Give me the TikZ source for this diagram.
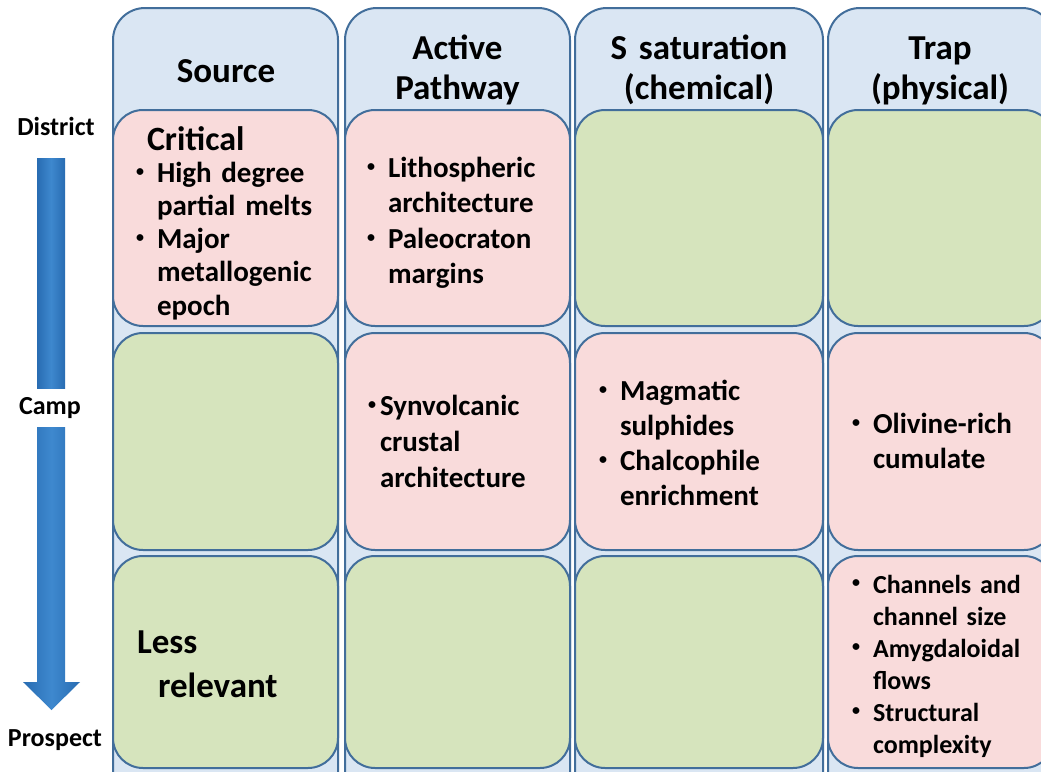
\documentclass[tikz,border=0pt]{standalone}
\usepackage{fontspec}
\setmainfont{Carlito}[WordSpace=0.8]
\definecolor{lineblue}{RGB}{66,110,155}
\definecolor{headblue}{RGB}{218,230,243}
\definecolor{cellpink}{RGB}{249,219,219}
\definecolor{cellgreen}{RGB}{214,228,189}
\definecolor{arrowdark}{RGB}{40,108,178}
\definecolor{arrowlight}{RGB}{62,136,206}
% small bullet hung to the left of the item text
\newcommand{\bu}{\leavevmode\llap{\raisebox{6pt}{\fontsize{16}{16}\selectfont •}\hspace{13pt}}}
\newcommand{\bt}{\leavevmode\llap{\raisebox{6pt}{\fontsize{16}{16}\selectfont •}\hspace{4pt}}}
\begin{document}
\begin{tikzpicture}[x=1pt,y=-1pt,
  every node/.style={inner sep=0pt, outer sep=0pt},
  colbox/.style={draw=lineblue, line width=2pt, fill=headblue, rounded corners=32pt,
    anchor=north west, minimum width=#1, minimum height=800pt},
  cell/.style={draw=lineblue, line width=2pt, rounded corners=30pt, anchor=north west},
  hot/.style={cell, fill=cellpink},
  cold/.style={cell, fill=cellgreen},
  head/.style={anchor=base, align=center, text width=230pt,
    font=\bfseries\fontsize{35}{40}\selectfont},
  items/.style={anchor=base west, align=left, text width=#1,
    font=\bfseries\fontsize{29}{35}\selectfont},
  levellabel/.style={font=\bfseries\fontsize{26}{30}\selectfont}
]
\useasboundingbox (0,0) rectangle (1041,771);
\clip (0,0) rectangle (1041,771);
\fill[white] (0,0) rectangle (1041,771);

% four column frames
\node[colbox=225pt] (col1) at (113,8) {};
\node[colbox=225pt] (col2) at (345,8) {};
\node[colbox=248pt] (col3) at (575,8) {};
\node[colbox=226pt] (col4) at (828,8) {};

% column headings
\node[head] (h1) at (226,82) {Source};
\node[head] (h2) at (457.5,59) {Active\\Pathway};
\node[head] (h3) at (699,59) {S saturation\\(chemical)};
\node[head] (h4) at (940,59) {Trap\\(physical)};

% cells, row by row
\node[hot,  minimum width=225pt, minimum height=216pt] (c11) at (113,110) {};
\node[hot,  minimum width=225pt, minimum height=216pt] (c21) at (345,110) {};
\node[cold, minimum width=248pt, minimum height=216pt] (c31) at (575,110) {};
\node[cold, minimum width=226pt, minimum height=216pt] (c41) at (828,110) {};

\node[cold, minimum width=225pt, minimum height=217pt] (c12) at (113,333) {};
\node[hot,  minimum width=225pt, minimum height=217pt] (c22) at (345,333) {};
\node[hot,  minimum width=248pt, minimum height=217pt] (c32) at (575,333) {};
\node[hot,  minimum width=226pt, minimum height=217pt] (c42) at (828,333) {};

\node[cold, minimum width=225pt, minimum height=212pt] (c13) at (113,556) {};
\node[cold, minimum width=225pt, minimum height=212pt] (c23) at (345,556) {};
\node[cold, minimum width=248pt, minimum height=212pt] (c33) at (575,556) {};
\node[hot,  minimum width=226pt, minimum height=212pt] (c43) at (828,556) {};

% cell texts
\node[anchor=base west, font=\bfseries\fontsize{34}{40}\selectfont] (t11a) at (147,150) {Critical};
\node[items=175pt, font=\bfseries\fontsize{29}{33.3}\selectfont] (t11) at (157,182)
  {\bu High degree\\partial melts\\\bu Major\\metallogenic\\epoch};
\node[items=175pt, font=\bfseries\fontsize{29}{35.5}\selectfont] (t21) at (388,177)
  {\bu Lithospheric\\architecture\\\bu Paleocraton\\margins};
\node[items=180pt, font=\bfseries\fontsize{29}{36}\selectfont] (t22) at (380,415)
  {\bt Synvolcanic\\crustal\\architecture};
\node[items=190pt] (t32) at (620,400)
  {\bu Magmatic\\sulphides\\\bu Chalcophile\\enrichment};
\node[items=160pt] (t42) at (873,433)
  {\bu Olivine-rich\\cumulate};
\node[items=160pt, font=\bfseries\fontsize{26}{32}\selectfont] (t43) at (873,593)
  {\bu Channels and\\channel size\\\bu Amygdaloidal\\flows\\\bu Structural\\complexity};
\node[items=180pt, font=\bfseries\fontsize{35}{44}\selectfont] (t13) at (137,653)
  {Less\\\hspace*{21pt}relevant};

% scale labels
\node[levellabel] (district) at (56,126) {District};
\node[levellabel] (camp) at (50,408) {Camp};
\node[levellabel] (prospect) at (55,740) {Prospect};

% downward scale arrow, broken by the Camp label
\shade[left color=arrowdark, right color=arrowdark, middle color=arrowlight]
  (37,158) rectangle (65,388);
\shade[left color=arrowdark, right color=arrowdark, middle color=arrowlight]
  (37,427) -- (37,682) -- (23,682) -- (51.5,710) -- (80,682) -- (65,682) -- (65,427) -- cycle;
\end{tikzpicture}
\end{document}
